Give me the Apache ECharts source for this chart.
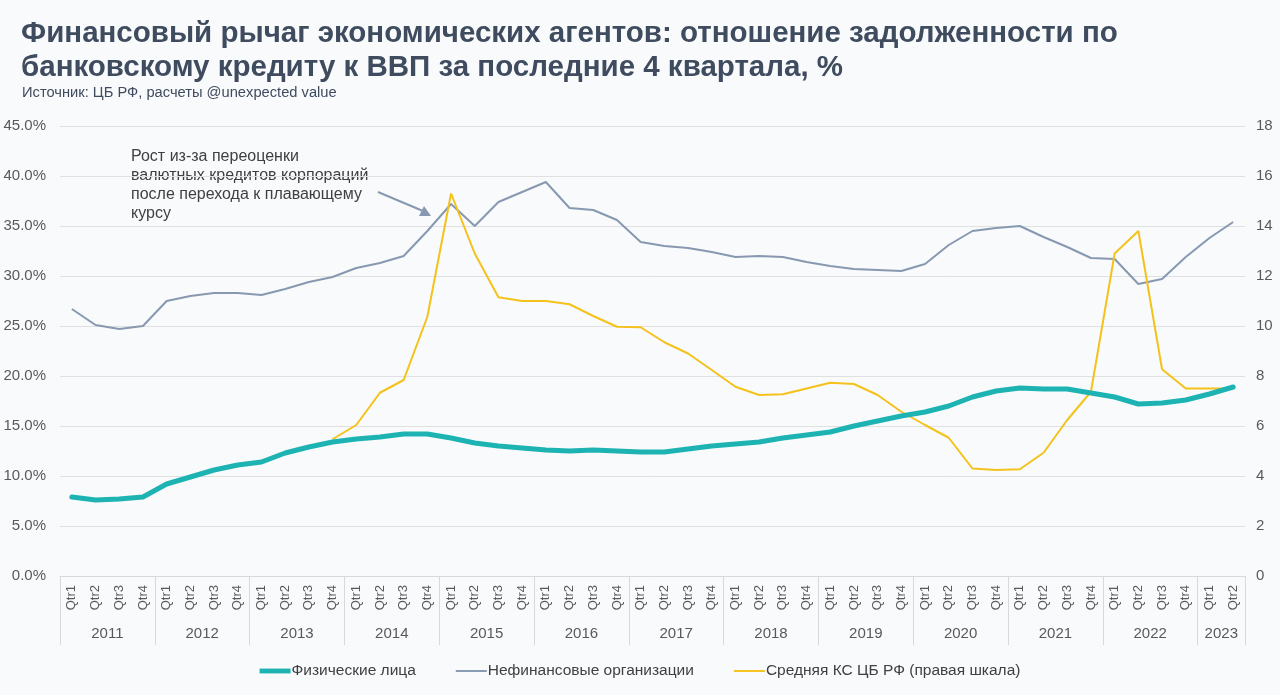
<!DOCTYPE html>
<html>
<head>
<meta charset="utf-8">
<script src="https://cdn.jsdelivr.net/npm/echarts@6/dist/echarts.min.js"></script>
<style>
html,body{margin:0;padding:0;background:#f9fafc;}
#chart{width:1280px;height:695px;}
</style>
</head>
<body>
<div id="chart"></div>
<script>
const years = ['2011','2012','2013','2014','2015','2016','2017','2018','2019','2020','2021','2022','2023'];
const quarters = ['Qtr1','Qtr2','Qtr3','Qtr4'];
const quarterCounts = [4,4,4,4,4,4,4,4,4,4,4,4,2];

const individuals = [7.9,7.6,7.7,7.9, 9.2,9.9,10.6,11.1, 11.4,12.3,12.9,13.4, 13.7,13.9,14.2,14.2,
  13.8,13.3,13.0,12.8, 12.6,12.5,12.6,12.5, 12.4,12.4,12.7,13.0, 13.2,13.4,13.8,14.1,
  14.4,15.0,15.5,16.0, 16.4,17.0,17.9,18.5, 18.8,18.7,18.7,18.3, 17.9,17.2,17.3,17.6, 18.2,18.9];
const nonfinancial = [26.7,25.1,24.7,25.0, 27.5,28.0,28.3,28.3, 28.1,28.7,29.4,29.9, 30.8,31.3,32.0,34.5,
  37.2,35.0,37.4,38.4, 39.4,36.8,36.6,35.6, 33.4,33.0,32.8,32.4, 31.9,32.0,31.9,31.4,
  31.0,30.7,30.6,30.5, 31.2,33.1,34.5,34.8, 35.0,33.9,32.9,31.8, 31.7,29.2,29.7,31.9, 33.8,35.4];
const keyRate = [null,null,null,null, null,null,null,null, null,null,null,5.47, 6.04,7.33,7.84,10.37,
  15.3,12.9,11.15,11.0, 11.0,10.87,10.4,9.97, 9.95,9.35,8.9,8.24, 7.57,7.24,7.27,7.5,
  7.73,7.68,7.24,6.57, 6.04,5.53,4.3,4.24, 4.27,4.93,6.24,7.37, 12.9,13.8,8.27,7.5, 7.5,7.5];

const seriesNames = ['Физические лица','Нефинансовые организации','Средняя КС ЦБ РФ (правая шкала)'];
const seriesColors = ['#1db3b3','#8799b0','#f5c21b'];

// build category list and year boundaries
const categories = [];
const yearStarts = [];
let idx = 0;
years.forEach((y, k) => {
  yearStarts.push(idx);
  for (let q = 0; q < quarterCounts[k]; q++) { categories.push(quarters[q]); idx++; }
});
const total = categories.length;
const boundaries = yearStarts.concat([total]);
const yearCenters = years.map((y, k) => yearStarts[k] + quarterCounts[k] / 2);

const chart = echarts.init(document.getElementById('chart'), null, {renderer: 'canvas'});
const textColor = '#3f4b5e';
const axisTextColor = '#595959';
const font = '"Liberation Sans", Arial, sans-serif';

chart.setOption({
  backgroundColor: '#f9fafc',
  textStyle: {fontFamily: font},
  title: [{
    text: 'Финансовый рычаг экономических агентов: отношение задолженности по\nбанковскому кредиту к ВВП за последние 4 квартала, %',
    left: 16, top: 12,
    textStyle: {fontFamily: font, fontSize: 29.5, fontWeight: 'bold', color: textColor, lineHeight: 34}
  }, {
    text: 'Источник: ЦБ РФ, расчеты @unexpected value',
    left: 17, top: 80,
    textStyle: {fontFamily: font, fontSize: 14.7, fontWeight: 'normal', color: textColor}
  }],
  legend: {
    bottom: 11, left: 'center',
    itemGap: 40, itemWidth: 31, itemHeight: 10,
    textStyle: {fontFamily: font, fontSize: 15.5, color: '#404040', padding: [0,0,0,-4]},
    data: [
      {name: seriesNames[0], icon: 'path://M0,0M0,10M0,2.5H32V7.5H0Z'},
      {name: seriesNames[1], icon: 'path://M0,0M0,10M0,4H32V6H0Z'},
      {name: seriesNames[2], icon: 'path://M0,0M0,10M0,4H32V6H0Z'}
    ]
  },
  grid: {left: 60, right: 35, top: 126, bottom: 119},
  xAxis: [{
    type: 'category',
    data: categories,
    boundaryGap: true,
    axisLine: {show: true, lineStyle: {color: '#d9d9d9', width: 1}},
    axisTick: {show: false},
    axisLabel: {interval: 0, rotate: 90, fontSize: 13, color: axisTextColor, margin: 9, fontFamily: font}
  }, {
    type: 'value',
    min: 0, max: total,
    position: 'bottom',
    axisLine: {show: false},
    splitLine: {show: false},
    axisTick: {show: true, length: 69, customValues: boundaries, lineStyle: {color: '#d9d9d9'}},
    axisLabel: {
      show: true, customValues: yearCenters, margin: 50, fontSize: 15, color: axisTextColor, fontFamily: font,
      formatter: function (v) { const k = yearCenters.indexOf(v); return k >= 0 ? years[k] : ''; }
    }
  }],
  yAxis: [{
    type: 'value', min: 0, max: 45, interval: 5, position: 'left',
    axisLine: {show: false}, axisTick: {show: false},
    splitLine: {lineStyle: {color: '#e0e0e0', width: 1}},
    axisLabel: {formatter: v => v.toFixed(1) + '%', fontSize: 15, color: axisTextColor, margin: 14, fontFamily: font}
  }, {
    type: 'value', min: 0, max: 18, interval: 2, position: 'right',
    axisLine: {show: false}, axisTick: {show: false},
    splitLine: {show: false},
    axisLabel: {fontSize: 15, color: axisTextColor, margin: 11, fontFamily: font}
  }],
  series: [{
    name: seriesNames[0], type: 'line', data: individuals, yAxisIndex: 0, xAxisIndex: 0,
    symbol: 'none', lineStyle: {color: seriesColors[0], width: 5, cap: 'round', join: 'round'}, itemStyle: {color: seriesColors[0]}, z: 3
  }, {
    name: seriesNames[1], type: 'line', data: nonfinancial, yAxisIndex: 0, xAxisIndex: 0,
    symbol: 'none', lineStyle: {color: seriesColors[1], width: 2}, itemStyle: {color: seriesColors[1]}, z: 2
  }, {
    name: seriesNames[2], type: 'line', data: keyRate, yAxisIndex: 1, xAxisIndex: 0,
    symbol: 'none', connectNulls: false, lineStyle: {color: seriesColors[2], width: 2}, itemStyle: {color: seriesColors[2]}, z: 2
  }],
  graphic: [{
    type: 'text', left: 131, top: 147,
    style: {
      text: 'Рост из-за переоценки\nвалютных кредитов корпораций\nпосле перехода к плавающему\nкурсу',
      font: '16px ' + font, fill: '#404040', lineHeight: 19
    }
  }, {
    type: 'line', shape: {x1: 378, y1: 192, x2: 423, y2: 211},
    style: {stroke: '#8799b0', lineWidth: 2}
  }, {
    type: 'polygon', shape: {points: [[431, 216], [419, 216], [424, 206]]},
    style: {fill: '#8799b0'}
  }]
});
</script>
</body>
</html>
